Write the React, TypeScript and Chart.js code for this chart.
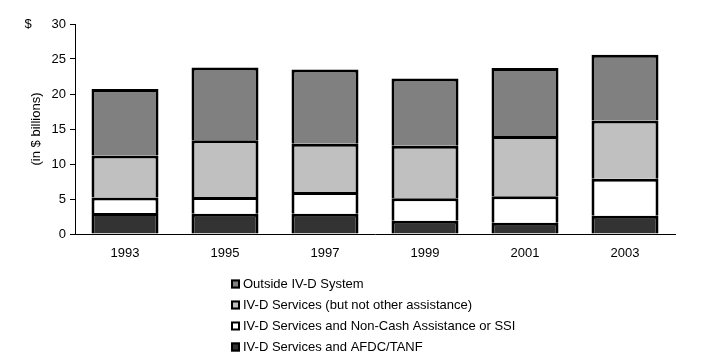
import { useEffect, useRef } from "react";
import { Chart, registerables } from "chart.js";

Chart.register(...registerables);

const years = ["1993", "1995", "1997", "1999", "2001", "2003"];
const afdcTanf = [3.0, 2.9, 2.9, 1.9, 1.6, 2.6];
const nonCashSsi = [2.2, 2.4, 3.1, 3.2, 3.8, 5.3];
const ivdOnly = [6.0, 8.1, 6.9, 7.5, 8.6, 8.3];
const outsideIvd = [9.5, 10.4, 10.6, 9.6, 9.7, 9.4];

const seriesLabels = [
  "IV-D Services and AFDC/TANF",
  "IV-D Services and Non-Cash Assistance or SSI",
  "IV-D Services (but not other assistance)",
  "Outside IV-D System",
];
const seriesColors = ["#333333", "#FFFFFF", "#C0C0C0", "#808080"];

const yMin = 0;
const yMax = 30;
const yStep = 5;
const yTitle = "(in $ billions)";
const unitLabel = "$";

const FONT = "Arial, 'Liberation Sans', sans-serif";

const customLegend = {
  id: "customLegend",
  afterDraw(chart: any) {
    const ctx = chart.ctx;
    ctx.save();
    ctx.font = `13px ${FONT}`;
    ctx.fillStyle = "#000";
    ctx.textAlign = "center";
    ctx.textBaseline = "middle";
    ctx.fillText(unitLabel, 28, chart.scales.y.getPixelForValue(yMax));

    const ds = chart.data.datasets.slice().reverse();
    const x0 = 231;
    const y0 = 284;
    const rowH = 21;
    ds.forEach((d: any, i: number) => {
      const cy = y0 + i * rowH;
      ctx.fillStyle = d.backgroundColor;
      ctx.fillRect(x0, cy - 4.5, 9, 9);
      ctx.lineWidth = 2;
      ctx.strokeStyle = "#000";
      ctx.strokeRect(x0 + 1, cy - 3.5, 7, 7);
      ctx.fillStyle = "#000";
      ctx.textAlign = "left";
      ctx.textBaseline = "middle";
      ctx.fillText(d.label, x0 + 12, cy);
    });
    ctx.restore();
  },
};

export default function App() {
  const ref = useRef<HTMLCanvasElement | null>(null);

  useEffect(() => {
    document.body.style.margin = "0";
    if (!ref.current) return;
    const values = [afdcTanf, nonCashSsi, ivdOnly, outsideIvd];
    const chart = new Chart(ref.current, {
      type: "bar",
      data: {
        labels: years,
        datasets: values.map((v, i) => ({
          label: seriesLabels[i],
          data: v,
          backgroundColor: seriesColors[i],
          borderColor: "#000",
          borderWidth: 3,
          barPercentage: 0.67,
          categoryPercentage: 1,
        })),
      },
      options: {
        animation: false,
        responsive: false,
        maintainAspectRatio: false,
        devicePixelRatio: 1,
        layout: { padding: { top: 24, right: 29, bottom: 0, left: 0 } },
        plugins: {
          legend: { display: false },
          tooltip: { enabled: false },
          title: { display: false },
        },
        scales: {
          x: {
            stacked: true,
            grid: { display: false, drawTicks: false },
            border: { display: true, color: "#000", width: 1 },
            ticks: { color: "#000", font: { family: FONT, size: 13 }, padding: 12, maxRotation: 0 },
            afterFit: (s: any) => {
              s.height = 130;
            },
          },
          y: {
            stacked: true,
            min: yMin,
            max: yMax,
            ticks: { stepSize: yStep, color: "#000", font: { family: FONT, size: 13 }, padding: 4 },
            grid: { display: true, drawOnChartArea: false, drawTicks: true, tickLength: 5, color: "#000" },
            border: { display: true, color: "#000", width: 1 },
            title: {
              display: true,
              text: yTitle,
              color: "#000",
              font: { family: FONT, size: 13 },
              padding: { top: 29, bottom: 0 },
            },
            afterFit: (s: any) => {
              s.width = 75;
            },
          },
        },
      },
      plugins: [customLegend],
    });
    return () => chart.destroy();
  }, []);

  return (
    <div style={{ position: "fixed", left: 0, top: 0, width: 704, height: 364, background: "#fff" }}>
      <canvas ref={ref} width={704} height={364} style={{ width: 704, height: 364 }} />
    </div>
  );
}
